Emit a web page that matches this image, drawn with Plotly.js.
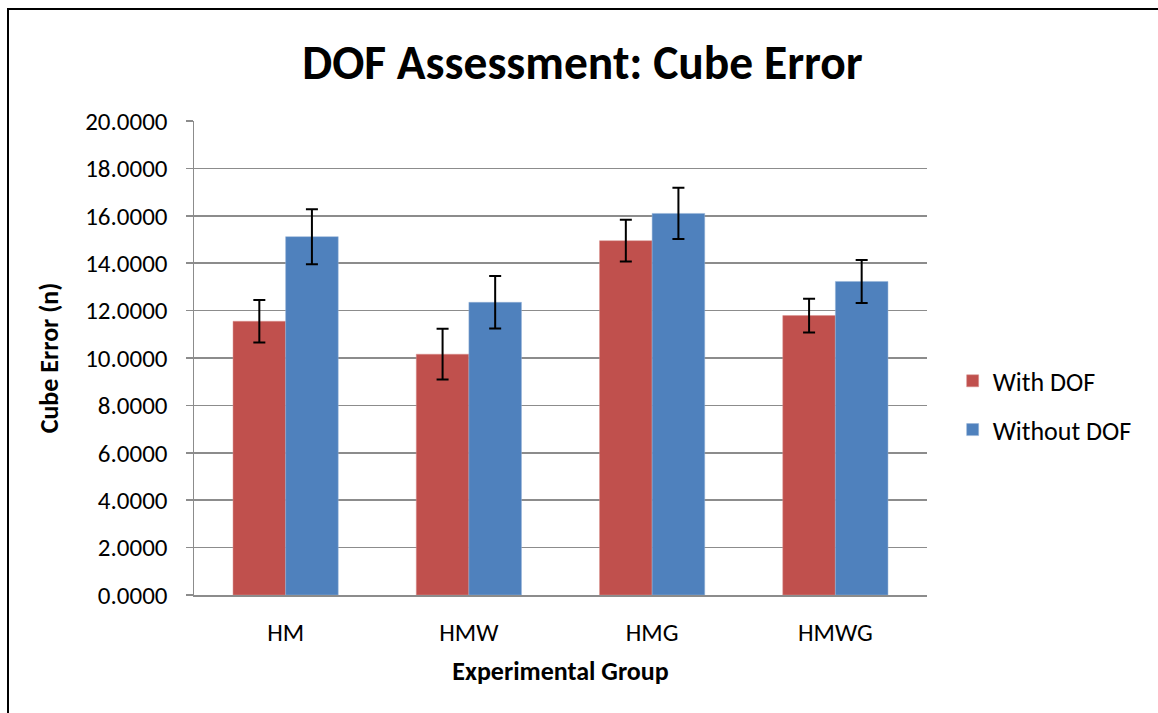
<!DOCTYPE html>
<html>
<head>
<meta charset="utf-8">
<script src="https://cdn.plot.ly/plotly-3.0.1.min.js"></script>
<style>
  html, body { margin: 0; padding: 0; background: #fff; }
  #wrap { position: relative; width: 1158px; height: 713px; overflow: hidden; }
  #chart { position: absolute; left: 0; top: 0; width: 1158px; height: 713px; }
  #frame { position: absolute; left: 7px; top: 8px; width: 1200px; height: 800px;
           border-left: 2px solid #000; border-top: 2px solid #000; pointer-events: none; }
</style>
</head>
<body>
<div id="wrap">
  <div id="chart"></div>
  <div id="frame"></div>
</div>
<script>
const categories = ["HM", "HMW", "HMG", "HMWG"];
const withDOF = [11.55, 10.16, 14.95, 11.79];
const withDOFErr = [0.90, 1.07, 0.88, 0.71];
const withoutDOF = [15.12, 12.35, 16.10, 13.23];
const withoutDOFErr = [1.16, 1.11, 1.08, 0.91];
const yTickVals = [0, 2, 4, 6, 8, 10, 12, 14, 16, 18, 20];
const yTickText = yTickVals.map(v => v.toFixed(4));

const FONT = "Carlito, 'Open Sans', sans-serif";

const errStyle = { type: 'data', visible: true, color: '#000', thickness: 2, width: 6 };

const traces = [
  {
    type: 'bar', name: 'With DOF', x: categories, y: withDOF,
    marker: { color: '#C0504D', line: { color: '#D9908E', width: 0.5 } },
    error_y: Object.assign({ array: withDOFErr }, errStyle),
    legendgroup: 'a'
  },
  {
    type: 'bar', name: 'Without DOF', x: categories, y: withoutDOF,
    marker: { color: '#4F81BD', line: { color: '#95B3D7', width: 0.5 } },
    error_y: Object.assign({ array: withoutDOFErr }, errStyle),
    legendgroup: 'b'
  }
];

const layout = {
  width: 1158, height: 713,
  margin: { l: 194, r: 231, t: 121, b: 118, pad: 0 },
  paper_bgcolor: '#fff', plot_bgcolor: '#fff',
  font: { family: FONT, color: '#000', size: 26 },
  title: {
    text: '<b>DOF Assessment: Cube Error</b>',
    font: { family: FONT, size: 47.5, color: '#000' },
    x: 0.503, xanchor: 'center', y: 0.913, yanchor: 'middle'
  },
  barmode: 'group', bargap: 0.426, bargroupgap: 0,
  xaxis: {
    showline: true, linecolor: '#8C8C8C', linewidth: 1.5,
    ticks: '', showgrid: false, zeroline: false,
    tickfont: { family: FONT, size: 25 },
    ticklabelstandoff: 14,
    title: { text: '<b>Experimental Group</b>', font: { family: FONT, size: 26 }, standoff: 15 }
  },
  yaxis: {
    range: [0, 20], tickvals: yTickVals, ticktext: yTickText,
    showline: true, linecolor: '#8C8C8C', linewidth: 1.5,
    ticks: 'outside', ticklen: 7, tickcolor: '#8C8C8C', tickwidth: 1.5,
    showgrid: true, gridcolor: '#8C8C8C', gridwidth: 1.5, zeroline: false,
    tickfont: { family: FONT, size: 25 },
    ticklabelstandoff: 13,
    title: { text: '<b>Cube Error (n)</b>', font: { family: FONT, size: 26 }, standoff: 19 }
  },
  legend: {
    x: 1.035, xanchor: 'left', y: 0.40, yanchor: 'middle',
    font: { family: FONT, size: 26 },
    tracegroupgap: 12, traceorder: 'grouped',
    bgcolor: 'rgba(0,0,0,0)'
  },
  showlegend: true
};

Plotly.newPlot('chart', traces, layout, { displayModeBar: false, staticPlot: true });
</script>
</body>
</html>
